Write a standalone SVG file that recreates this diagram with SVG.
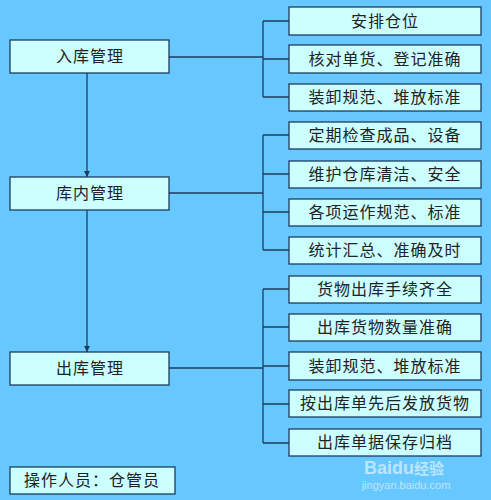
<svg xmlns="http://www.w3.org/2000/svg" width="491" height="500" viewBox="0 0 491 500">
<style>
.bg{fill:#66C8FF}
.box{fill:#CCFFFF;stroke:#1E3C5E;stroke-width:1.3}
.t{font-family:"Noto Sans CJK SC","Noto Sans",sans-serif;font-size:16px;fill:#222;text-anchor:middle;letter-spacing:1px}
.ln{fill:none;stroke:#1E3C5E;stroke-width:1.3}
.wm{font-family:"Liberation Sans",sans-serif;fill:#fff;opacity:0.55;text-anchor:middle}
</style>
<defs>
<marker id="ah" viewBox="0 0 8 8" refX="8" refY="4" markerWidth="6" markerHeight="6" orient="auto" markerUnits="userSpaceOnUse">
<path d="M0,0 L8,4 L0,8 Z" fill="#1E3C5E"/>
</marker>
</defs>
<rect class="bg" x="0" y="0" width="491" height="500"/>
<g id="connectors">
<line class="ln" x1="87" y1="73" x2="87" y2="177" marker-end="url(#ah)"/>
<line class="ln" x1="87" y1="210" x2="87" y2="352" marker-end="url(#ah)"/>
<path class="ln" d="M169,57 H263 M263,21 V97 M263,21 H289 M263,59 H289 M263,97 H289"/>
<path class="ln" d="M169,193 H263 M263,135 V250 M263,135 H289 M263,174 H289 M263,212 H289 M263,250 H289"/>
<path class="ln" d="M169,368 H263 M263,289 V443 M263,289 H289 M263,327 H289 M263,366 H289 M263,404 H289 M263,443 H289"/>
</g>
<g id="n-in"><rect class="box" x="10" y="40" width="159" height="33"/><text class="t" x="90" y="62">入库管理</text></g>
<g id="n-inner"><rect class="box" x="10" y="177" width="159" height="33"/><text class="t" x="90" y="199">库内管理</text></g>
<g id="n-out"><rect class="box" x="10" y="352" width="159" height="33"/><text class="t" x="90" y="374">出库管理</text></g>
<g id="n-staff"><rect class="box" x="10" y="467" width="165" height="27"/><text class="t" x="92" y="486">操作人员：仓管员</text></g>
<g id="r1"><rect class="box" x="289" y="7" width="192" height="28"/><text class="t" x="385" y="27">安排仓位</text></g>
<g id="r2"><rect class="box" x="289" y="45" width="192" height="28"/><text class="t" x="385" y="65">核对单货、登记准确</text></g>
<g id="r3"><rect class="box" x="289" y="84" width="192" height="27"/><text class="t" x="385" y="103">装卸规范、堆放标准</text></g>
<g id="r4"><rect class="box" x="289" y="122" width="192" height="27"/><text class="t" x="385" y="141">定期检查成品、设备</text></g>
<g id="r5"><rect class="box" x="289" y="161" width="192" height="27"/><text class="t" x="385" y="180">维护仓库清洁、安全</text></g>
<g id="r6"><rect class="box" x="289" y="199" width="192" height="27"/><text class="t" x="385" y="218">各项运作规范、标准</text></g>
<g id="r7"><rect class="box" x="289" y="237" width="192" height="27"/><text class="t" x="385" y="256">统计汇总、准确及时</text></g>
<g id="r8"><rect class="box" x="289" y="276" width="192" height="27"/><text class="t" x="385" y="295">货物出库手续齐全</text></g>
<g id="r9"><rect class="box" x="289" y="314" width="192" height="27"/><text class="t" x="385" y="333">出库货物数量准确</text></g>
<g id="r10"><rect class="box" x="289" y="352" width="192" height="28"/><text class="t" x="385" y="372">装卸规范、堆放标准</text></g>
<g id="r11"><rect class="box" x="289" y="390" width="192" height="27"/><text class="t" x="385" y="409">按出库单先后发放货物</text></g>
<g id="r12"><rect class="box" x="289" y="429" width="192" height="27"/><text class="t" x="385" y="448">出库单据保存归档</text></g>
<g id="watermark">
<text class="wm" x="404" y="474" font-size="18" font-weight="bold">Baidu<tspan font-family="Noto Sans CJK SC,sans-serif" font-size="15">经验</tspan></text>
<text class="wm" x="406" y="489" font-size="11">jingyan.baidu.com</text>
</g>
</svg>
